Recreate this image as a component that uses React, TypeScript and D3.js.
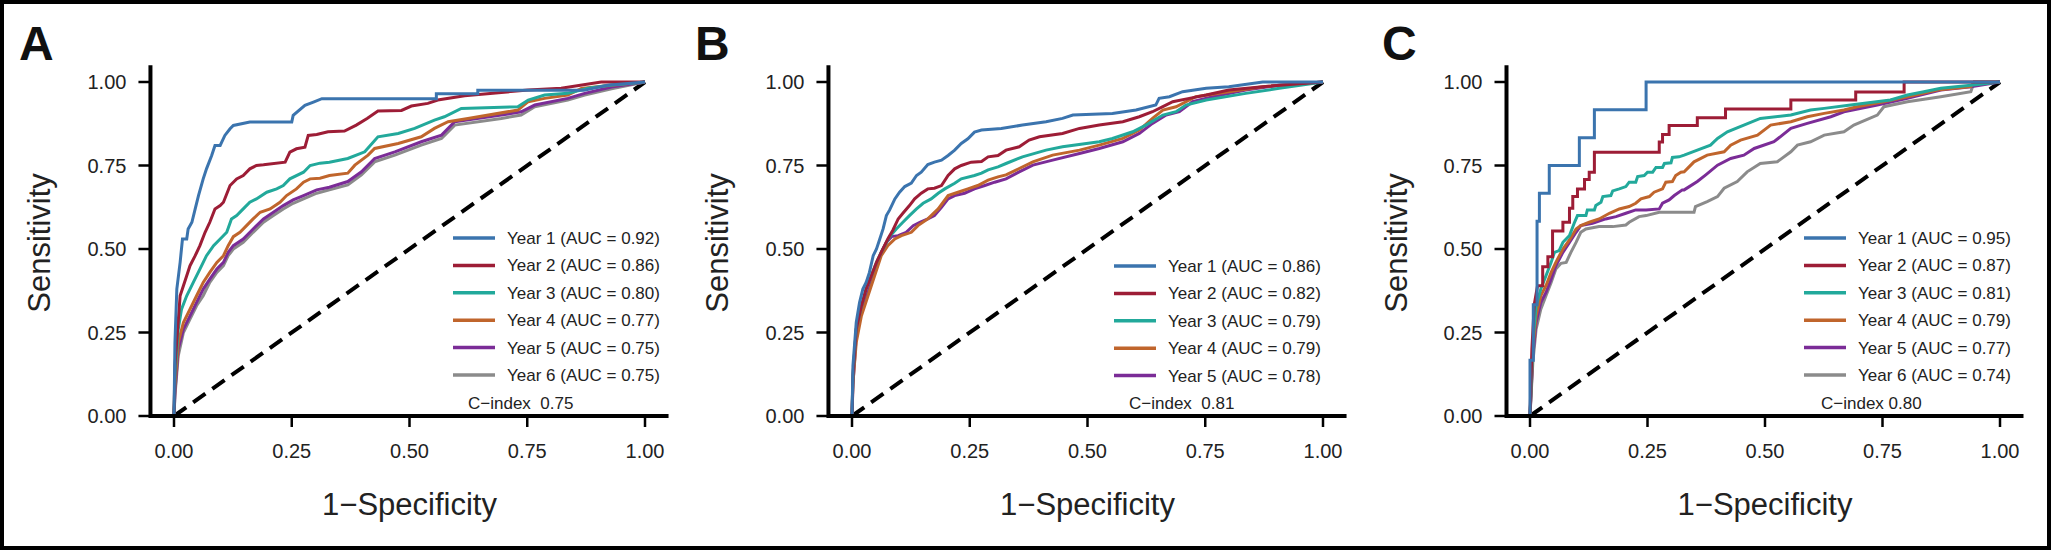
import React from "react";
import * as d3 from "d3";

type Pt = [number, number];

// ---------- data ----------
const xTicks = [0, 0.25, 0.5, 0.75, 1];
const yTicks = [0, 0.25, 0.5, 0.75, 1];
const tickLabels = ["0.00", "0.25", "0.50", "0.75", "1.00"];
const panelLetters = ["A", "B", "C"];
const seriesColors = ["#3b74ae", "#9d1d36", "#22a99b", "#c0652c", "#7b2c97", "#8b8b8b"];

const legendA = ["Year 1 (AUC = 0.92)", "Year 2 (AUC = 0.86)", "Year 3 (AUC = 0.80)", "Year 4 (AUC = 0.77)", "Year 5 (AUC = 0.75)", "Year 6 (AUC = 0.75)"];
const legendB = ["Year 1 (AUC = 0.86)", "Year 2 (AUC = 0.82)", "Year 3 (AUC = 0.79)", "Year 4 (AUC = 0.79)", "Year 5 (AUC = 0.78)"];
const legendC = ["Year 1 (AUC = 0.95)", "Year 2 (AUC = 0.87)", "Year 3 (AUC = 0.81)", "Year 4 (AUC = 0.79)", "Year 5 (AUC = 0.77)", "Year 6 (AUC = 0.74)"];
const cIndexLabels = ["C\u2212index\u00a0 0.75", "C\u2212index\u00a0 0.81", "C\u2212index 0.80"];

// Panel A
const aYear1: Pt[] = [[0,0],[0.002,0.22],[0.006,0.38],[0.013,0.46],[0.018,0.53],[0.027,0.53],[0.03,0.56],[0.038,0.58],[0.045,0.62],[0.052,0.66],[0.062,0.71],[0.069,0.74],[0.08,0.78],[0.087,0.81],[0.098,0.81],[0.108,0.84],[0.119,0.86],[0.126,0.87],[0.161,0.88],[0.25,0.88],[0.253,0.9],[0.278,0.93],[0.296,0.94],[0.314,0.95],[0.557,0.95],[0.557,0.965],[0.645,0.965],[0.645,0.975],[0.87,0.975],[0.92,0.99],[1,1]];
const aYear2: Pt[] = [[0,0],[0.002,0.15],[0.013,0.36],[0.02,0.39],[0.027,0.42],[0.034,0.45],[0.045,0.48],[0.055,0.51],[0.066,0.55],[0.076,0.58],[0.087,0.62],[0.098,0.63],[0.105,0.64],[0.119,0.69],[0.133,0.71],[0.147,0.72],[0.161,0.74],[0.175,0.75],[0.19,0.752],[0.236,0.76],[0.246,0.79],[0.26,0.8],[0.278,0.805],[0.285,0.84],[0.303,0.843],[0.327,0.851],[0.362,0.853],[0.387,0.871],[0.41,0.891],[0.433,0.913],[0.483,0.915],[0.504,0.928],[0.539,0.936],[0.56,0.946],[0.617,0.959],[0.752,0.976],[0.822,0.981],[0.907,1],[1,1]];
const aYear3: Pt[] = [[0,0],[0.002,0.12],[0.009,0.26],[0.016,0.32],[0.027,0.36],[0.041,0.4],[0.055,0.44],[0.069,0.48],[0.084,0.51],[0.098,0.53],[0.112,0.55],[0.122,0.59],[0.133,0.6],[0.147,0.62],[0.161,0.64],[0.175,0.65],[0.197,0.67],[0.218,0.68],[0.232,0.69],[0.246,0.71],[0.275,0.73],[0.289,0.75],[0.31,0.757],[0.33,0.76],[0.369,0.771],[0.405,0.791],[0.433,0.836],[0.476,0.846],[0.511,0.861],[0.553,0.886],[0.574,0.896],[0.61,0.921],[0.73,0.926],[0.752,0.946],[0.787,0.961],[0.836,0.966],[0.879,0.981],[0.929,0.991],[1,1]];
const aYear4: Pt[] = [[0,0],[0.002,0.09],[0.009,0.22],[0.02,0.28],[0.034,0.32],[0.048,0.36],[0.062,0.4],[0.076,0.43],[0.091,0.46],[0.105,0.48],[0.115,0.51],[0.126,0.537],[0.14,0.55],[0.154,0.57],[0.168,0.59],[0.183,0.61],[0.204,0.62],[0.225,0.64],[0.239,0.66],[0.26,0.68],[0.275,0.7],[0.289,0.71],[0.31,0.712],[0.33,0.72],[0.369,0.727],[0.384,0.751],[0.412,0.781],[0.426,0.801],[0.476,0.816],[0.525,0.836],[0.553,0.861],[0.582,0.881],[0.624,0.891],[0.73,0.916],[0.752,0.941],[0.787,0.951],[0.836,0.961],[0.865,0.981],[0.929,0.99],[1,1]];
const aYear5: Pt[] = [[0,0],[0.002,0.07],[0.009,0.2],[0.02,0.26],[0.034,0.3],[0.048,0.34],[0.062,0.38],[0.076,0.41],[0.091,0.44],[0.105,0.46],[0.115,0.49],[0.126,0.51],[0.147,0.53],[0.168,0.56],[0.19,0.59],[0.211,0.61],[0.232,0.63],[0.253,0.647],[0.275,0.66],[0.303,0.677],[0.33,0.685],[0.369,0.702],[0.398,0.731],[0.426,0.771],[0.469,0.791],[0.525,0.821],[0.568,0.841],[0.596,0.881],[0.695,0.901],[0.737,0.911],[0.766,0.931],[0.836,0.951],[0.872,0.966],[0.929,0.985],[1,1]];
const aYear6: Pt[] = [[0,0],[0.002,0.06],[0.009,0.18],[0.02,0.25],[0.034,0.29],[0.048,0.33],[0.062,0.36],[0.076,0.4],[0.091,0.43],[0.105,0.45],[0.115,0.48],[0.126,0.5],[0.147,0.52],[0.168,0.55],[0.19,0.58],[0.211,0.6],[0.232,0.62],[0.253,0.637],[0.275,0.65],[0.303,0.667],[0.33,0.677],[0.369,0.692],[0.398,0.722],[0.426,0.761],[0.469,0.781],[0.525,0.811],[0.568,0.831],[0.596,0.871],[0.695,0.891],[0.737,0.901],[0.766,0.926],[0.836,0.946],[0.872,0.961],[0.929,0.98],[1,1]];

// Panel B
const bYear1: Pt[] = [[0,0],[0.002,0.15],[0.009,0.28],[0.016,0.34],[0.023,0.38],[0.03,0.4],[0.037,0.43],[0.045,0.48],[0.052,0.5],[0.059,0.53],[0.066,0.56],[0.073,0.6],[0.08,0.617],[0.091,0.65],[0.101,0.67],[0.112,0.687],[0.126,0.697],[0.137,0.72],[0.147,0.73],[0.161,0.753],[0.175,0.76],[0.19,0.766],[0.204,0.78],[0.218,0.796],[0.232,0.816],[0.246,0.83],[0.26,0.85],[0.275,0.856],[0.317,0.861],[0.362,0.871],[0.412,0.881],[0.447,0.891],[0.469,0.901],[0.553,0.906],[0.603,0.916],[0.645,0.931],[0.652,0.951],[0.674,0.956],[0.702,0.971],[0.752,0.981],[0.8,0.986],[0.872,1],[1,1]];
const bYear2: Pt[] = [[0,0],[0.002,0.12],[0.009,0.26],[0.02,0.33],[0.03,0.38],[0.041,0.42],[0.052,0.46],[0.062,0.49],[0.076,0.53],[0.087,0.557],[0.098,0.59],[0.108,0.607],[0.122,0.63],[0.133,0.65],[0.147,0.667],[0.161,0.68],[0.175,0.682],[0.19,0.69],[0.204,0.72],[0.218,0.74],[0.232,0.75],[0.253,0.76],[0.275,0.762],[0.289,0.776],[0.31,0.78],[0.327,0.796],[0.355,0.806],[0.376,0.826],[0.398,0.836],[0.447,0.846],[0.483,0.861],[0.525,0.871],[0.575,0.881],[0.61,0.896],[0.638,0.911],[0.66,0.926],[0.681,0.941],[0.716,0.951],[0.752,0.961],[0.8,0.976],[0.872,0.986],[1,1]];
const bYear3: Pt[] = [[0,0],[0.002,0.12],[0.009,0.26],[0.02,0.33],[0.03,0.38],[0.041,0.42],[0.052,0.46],[0.062,0.49],[0.08,0.537],[0.094,0.56],[0.108,0.58],[0.122,0.6],[0.137,0.62],[0.151,0.637],[0.168,0.65],[0.183,0.667],[0.197,0.68],[0.218,0.697],[0.232,0.71],[0.26,0.72],[0.275,0.727],[0.289,0.737],[0.31,0.746],[0.327,0.756],[0.362,0.776],[0.412,0.796],[0.447,0.806],[0.525,0.821],[0.553,0.831],[0.596,0.851],[0.624,0.871],[0.66,0.901],[0.688,0.911],[0.709,0.931],[0.752,0.946],[0.836,0.966],[0.907,0.981],[1,1]];
const bYear4: Pt[] = [[0,0],[0.002,0.1],[0.009,0.22],[0.02,0.3],[0.034,0.36],[0.048,0.42],[0.062,0.48],[0.076,0.51],[0.091,0.53],[0.105,0.54],[0.126,0.55],[0.14,0.57],[0.161,0.59],[0.183,0.62],[0.204,0.66],[0.225,0.67],[0.246,0.68],[0.267,0.69],[0.289,0.706],[0.31,0.716],[0.327,0.722],[0.355,0.741],[0.384,0.761],[0.426,0.781],[0.483,0.796],[0.525,0.811],[0.575,0.831],[0.61,0.856],[0.638,0.891],[0.66,0.916],[0.688,0.926],[0.73,0.956],[0.8,0.971],[0.872,0.986],[1,1]];
const bYear5: Pt[] = [[0,0],[0.002,0.093],[0.009,0.24],[0.02,0.32],[0.034,0.37],[0.048,0.43],[0.062,0.49],[0.073,0.52],[0.084,0.537],[0.098,0.54],[0.115,0.55],[0.13,0.57],[0.144,0.58],[0.161,0.59],[0.175,0.6],[0.19,0.625],[0.204,0.65],[0.218,0.66],[0.239,0.667],[0.26,0.68],[0.282,0.69],[0.303,0.7],[0.327,0.71],[0.355,0.731],[0.384,0.751],[0.426,0.766],[0.483,0.786],[0.525,0.801],[0.575,0.821],[0.61,0.846],[0.638,0.876],[0.667,0.901],[0.695,0.911],[0.723,0.941],[0.766,0.956],[0.836,0.976],[0.907,0.99],[1,1]];

// Panel C
const cYear1: Pt[] = [[0,0],[0,0.167],[0.007,0.167],[0.007,0.333],[0.015,0.333],[0.015,0.583],[0.02,0.583],[0.02,0.667],[0.041,0.667],[0.041,0.75],[0.105,0.75],[0.105,0.833],[0.137,0.833],[0.137,0.917],[0.247,0.917],[0.247,1],[1,1]];
const cYear2: Pt[] = [[0,0],[0.004,0.2],[0.009,0.333],[0.016,0.39],[0.027,0.39],[0.027,0.447],[0.038,0.447],[0.038,0.477],[0.048,0.477],[0.048,0.554],[0.07,0.554],[0.07,0.58],[0.084,0.58],[0.084,0.622],[0.091,0.622],[0.091,0.657],[0.101,0.657],[0.101,0.68],[0.116,0.68],[0.116,0.708],[0.126,0.708],[0.126,0.73],[0.137,0.73],[0.137,0.79],[0.275,0.79],[0.275,0.82],[0.282,0.82],[0.282,0.843],[0.296,0.843],[0.296,0.87],[0.356,0.87],[0.356,0.893],[0.416,0.893],[0.416,0.919],[0.555,0.919],[0.555,0.946],[0.693,0.946],[0.693,0.97],[0.796,0.97],[0.796,1],[1,1]];
const cYear3: Pt[] = [[0,0],[0.006,0.22],[0.013,0.33],[0.023,0.38],[0.034,0.42],[0.045,0.46],[0.052,0.49],[0.062,0.495],[0.07,0.52],[0.084,0.54],[0.094,0.577],[0.101,0.6],[0.119,0.6],[0.122,0.617],[0.137,0.617],[0.14,0.63],[0.151,0.64],[0.155,0.657],[0.172,0.66],[0.176,0.674],[0.19,0.68],[0.204,0.687],[0.211,0.7],[0.225,0.7],[0.229,0.717],[0.243,0.72],[0.25,0.73],[0.261,0.73],[0.268,0.744],[0.282,0.744],[0.286,0.756],[0.3,0.758],[0.303,0.774],[0.317,0.776],[0.328,0.781],[0.356,0.796],[0.384,0.811],[0.399,0.831],[0.42,0.851],[0.455,0.871],[0.49,0.891],[0.555,0.901],[0.597,0.916],[0.626,0.921],[0.682,0.931],[0.767,0.946],[0.803,0.961],[0.838,0.971],[0.874,0.981],[0.938,0.99],[1,1]];
const cYear4: Pt[] = [[0,0],[0.006,0.2],[0.013,0.3],[0.023,0.36],[0.034,0.39],[0.045,0.43],[0.055,0.46],[0.07,0.5],[0.084,0.527],[0.098,0.56],[0.108,0.57],[0.126,0.58],[0.147,0.59],[0.169,0.607],[0.19,0.62],[0.211,0.627],[0.225,0.637],[0.236,0.65],[0.254,0.657],[0.264,0.67],[0.282,0.68],[0.289,0.7],[0.303,0.702],[0.31,0.72],[0.321,0.73],[0.328,0.731],[0.349,0.761],[0.377,0.781],[0.413,0.791],[0.427,0.811],[0.448,0.826],[0.484,0.841],[0.512,0.871],[0.555,0.881],[0.59,0.896],[0.626,0.906],[0.668,0.916],[0.696,0.926],[0.753,0.941],[0.803,0.956],[0.867,0.976],[0.938,0.986],[0.945,1],[1,1]];
const cYear5: Pt[] = [[0,0],[0.006,0.18],[0.013,0.28],[0.023,0.34],[0.034,0.37],[0.045,0.41],[0.055,0.45],[0.07,0.49],[0.084,0.52],[0.098,0.55],[0.108,0.57],[0.133,0.577],[0.161,0.59],[0.183,0.597],[0.204,0.607],[0.225,0.617],[0.247,0.617],[0.275,0.62],[0.282,0.637],[0.296,0.647],[0.307,0.66],[0.324,0.677],[0.328,0.677],[0.356,0.702],[0.374,0.722],[0.399,0.751],[0.427,0.771],[0.455,0.781],[0.477,0.801],[0.519,0.821],[0.555,0.861],[0.59,0.876],[0.64,0.896],[0.668,0.911],[0.739,0.931],[0.803,0.951],[0.874,0.976],[0.938,0.986],[1,1]];
const cYear6: Pt[] = [[0,0],[0.006,0.16],[0.013,0.26],[0.023,0.32],[0.034,0.36],[0.045,0.4],[0.055,0.44],[0.066,0.457],[0.077,0.46],[0.087,0.49],[0.098,0.52],[0.108,0.55],[0.119,0.56],[0.147,0.567],[0.176,0.567],[0.204,0.572],[0.211,0.58],[0.232,0.597],[0.247,0.6],[0.275,0.61],[0.349,0.61],[0.352,0.627],[0.377,0.642],[0.399,0.657],[0.413,0.682],[0.441,0.702],[0.462,0.731],[0.49,0.756],[0.526,0.761],[0.555,0.791],[0.569,0.811],[0.597,0.821],[0.626,0.841],[0.668,0.851],[0.689,0.871],[0.739,0.901],[0.753,0.926],[0.803,0.941],[0.874,0.956],[0.938,0.971],[0.945,1],[1,1]];

const panelASeries = [aYear1, aYear2, aYear3, aYear4, aYear5, aYear6];
const panelBSeries = [bYear1, bYear2, bYear3, bYear4, bYear5];
const panelCSeries = [cYear1, cYear2, cYear3, cYear4, cYear5, cYear6];

// ---------- layout ----------
const W = 2051;
const H = 550;
const FONT = "'Liberation Sans', Arial, Helvetica, sans-serif";
const panels = [
  { x0: 174, width: 471, series: panelASeries, legend: legendA, cIndex: cIndexLabels[0], legendDx: 279, cDx: 294, letterX: 19 },
  { x0: 852, width: 471, series: panelBSeries, legend: legendB, cIndex: cIndexLabels[1], legendDx: 262, cDx: 277, letterX: 695 },
  { x0: 1530, width: 470, series: panelCSeries, legend: legendC, cIndex: cIndexLabels[2], legendDx: 274, cDx: 291, letterX: 1382 },
];
const yTop = 82;
const yBottom = 416;

function Panel({ p, idx }: { p: (typeof panels)[number]; idx: number }) {
  const x = d3.scaleLinear().domain([0, 1]).range([p.x0, p.x0 + p.width]);
  const y = d3.scaleLinear().domain([0, 1]).range([yBottom, yTop]);
  const line = d3.line<Pt>().x((d) => x(d[0])).y((d) => y(d[1]));
  const legendTop = p.series.length === 6 ? 238 : 266;
  const rowH = 27.4;
  const xMid = (x(-0.05) + x(1.05)) / 2;
  return (
    <g>
      <text x={p.letterX} y={60} fontFamily={FONT} fontWeight="bold" fontSize={48} fill="#111">
        {panelLetters[idx]}
      </text>
      {/* diagonal reference */}
      <path d={line([[0, 0], [1, 1]]) || ""} stroke="#000" strokeWidth={4} strokeDasharray="15 8.5" fill="none" />
      {/* curves, drawn last series first so year 1 on top */}
      {p.series
        .map((s, i) => ({ s, i }))
        .reverse()
        .map(({ s, i }) => (
          <path key={i} d={line(s) || ""} stroke={seriesColors[i]} strokeWidth={3} fill="none" strokeLinejoin="miter" />
        ))}
      {/* axes */}
      <line x1={x(-0.05)} x2={x(1.05)} y1={y(0)} y2={y(0)} stroke="#000" strokeWidth={4} />
      <line x1={x(-0.05)} x2={x(-0.05)} y1={y(0) + 2} y2={y(1.05)} stroke="#000" strokeWidth={4} />
      {xTicks.map((t, i) => (
        <g key={"x" + i}>
          <line x1={x(t)} x2={x(t)} y1={y(0)} y2={y(0) + 11} stroke="#000" strokeWidth={2.5} />
          <text x={x(t)} y={458} textAnchor="middle" fontFamily={FONT} fontSize={20} fill="#222">
            {tickLabels[i]}
          </text>
        </g>
      ))}
      {yTicks.map((t, i) => (
        <g key={"y" + i}>
          <line x1={x(-0.05) - 12} x2={x(-0.05)} y1={y(t)} y2={y(t)} stroke="#000" strokeWidth={2.5} />
          <text x={x(-0.05) - 24} y={y(t)} dy="0.36em" textAnchor="end" fontFamily={FONT} fontSize={20} fill="#222">
            {tickLabels[i]}
          </text>
        </g>
      ))}
      <text x={xMid} y={515} textAnchor="middle" fontFamily={FONT} fontSize={31} fill="#222">
        1{"\u2212"}Specificity
      </text>
      <text transform={`translate(${x(-0.05) - 100},243) rotate(-90)`} textAnchor="middle" fontFamily={FONT} fontSize={31} fill="#222">
        Sensitivity
      </text>
      {/* legend */}
      {p.legend.map((lab, i) => {
        const ly = legendTop + i * rowH;
        return (
          <g key={"l" + i}>
            <line x1={p.x0 + p.legendDx} x2={p.x0 + p.legendDx + 42} y1={ly} y2={ly} stroke={seriesColors[i]} strokeWidth={3.5} />
            <text x={p.x0 + p.legendDx + 54} y={ly} dy="0.35em" fontFamily={FONT} fontSize={17} fill="#222">
              {lab}
            </text>
          </g>
        );
      })}
      <text x={p.x0 + p.cDx} y={403} dy="0.35em" fontFamily={FONT} fontSize={17} fill="#222">
        {p.cIndex}
      </text>
    </g>
  );
}

export default function App() {
  return (
    <svg width={W} height={H} style={{ position: "absolute", left: 0, top: 0, background: "#fff" }}>
      <rect x={0} y={0} width={W} height={H} fill="#fff" />
      {panels.map((p, i) => (
        <Panel key={i} p={p} idx={i} />
      ))}
      <rect x={2} y={2} width={W - 4} height={H - 4} fill="none" stroke="#000" strokeWidth={4} />
    </svg>
  );
}
